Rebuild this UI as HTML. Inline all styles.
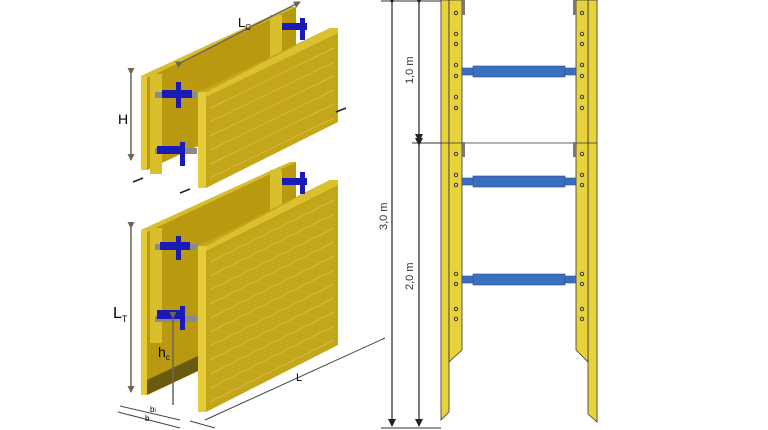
<!DOCTYPE html>
<html><head><meta charset="utf-8"><style>
html,body{margin:0;padding:0;background:#fff;width:768px;height:430px;overflow:hidden}
svg{display:block;font-family:"Liberation Sans",sans-serif}
</style></head><body>
<svg width="768" height="430" viewBox="0 0 768 430" xmlns="http://www.w3.org/2000/svg">
<defs>
<marker id="ab" markerWidth="8" markerHeight="8" refX="7" refY="4" orient="auto" markerUnits="userSpaceOnUse"><path d="M0,0L8,4L0,8z" fill="#222"/></marker>
<marker id="ag" markerWidth="7" markerHeight="7" refX="6" refY="3.5" orient="auto" markerUnits="userSpaceOnUse"><path d="M0,0L7,3.5L0,7z" fill="#6b6655"/></marker>
</defs>
<!-- ===== LEFT ISOMETRIC ===== -->
<!-- upper unit back panel -->
<polygon points="141,76 290,7 296,7 296,100 147,170 141,170" fill="#b8990f"/>
<polygon points="141,76 290,7 296,7 147,78" fill="#d8bd2c"/>
<polygon points="141,76 147,76 147,170 141,170" fill="#e3c935"/>
<rect x="150" y="74" width="12" height="100" fill="#d9bf2c"/>
<rect x="270" y="15" width="12" height="60" fill="#d9bf2c"/>
<!-- upper front panel -->
<polygon points="198,92 330,28 338,28 338,122 206,188 198,188" fill="#c4a61a"/>
<polygon points="198,92 206,92 206,188 198,188" fill="#e6cc38"/>
<polygon points="206,92 330,28 338,28 338,33 206,97" fill="#dcc12e"/>
<g stroke="#d8c050" stroke-width="0.7">
<line x1="210" y1="108" x2="334" y2="48"/><line x1="210" y1="122" x2="334" y2="62"/><line x1="210" y1="136" x2="334" y2="76"/><line x1="210" y1="150" x2="334" y2="90"/><line x1="210" y1="164" x2="334" y2="104"/><line x1="210" y1="178" x2="334" y2="118"/>
</g>
<!-- struts upper -->
<g fill="#1a1ab8">
<rect x="155" y="92" width="42" height="6" fill="#8a8a8a"/>
<rect x="162" y="90" width="30" height="8"/><rect x="176" y="82" width="5" height="26"/>
<rect x="155" y="148" width="42" height="6" fill="#8a8a8a"/>
<rect x="157" y="146" width="28" height="8"/><rect x="180" y="142" width="5" height="24"/>
<rect x="282" y="23" width="25" height="7"/><rect x="300" y="18" width="5" height="22"/>
</g>
<!-- dims upper -->
<line x1="131" y1="74" x2="131" y2="160" stroke="#6b6655" stroke-width="1.5" marker-start="url(#ag)" marker-end="url(#ag)"/>
<text x="118" y="124" font-size="14">H</text>
<line x1="182" y1="62" x2="300" y2="2" stroke="#6b6655" stroke-width="1.5" marker-start="url(#ag)" marker-end="url(#ag)"/>
<text x="238" y="27" font-size="13">L<tspan font-size="8" dy="3">C</tspan></text>
<line x1="133" y1="182" x2="143" y2="178" stroke="#222" stroke-width="1.5"/>
<line x1="180" y1="193" x2="190" y2="189" stroke="#222" stroke-width="1.5"/>
<line x1="336" y1="112" x2="346" y2="108" stroke="#222" stroke-width="1.5"/>
<!-- lower unit back panel -->
<polygon points="141,230 290,162 296,162 296,325 147,395 141,395" fill="#b8990f"/>
<polygon points="141,230 290,162 296,162 147,232" fill="#d8bd2c"/>
<polygon points="141,230 147,230 147,395 141,395" fill="#e3c935"/>
<polygon points="147,380 200,355 200,370 147,395" fill="#6a5a10"/>
<rect x="150" y="228" width="12" height="115" fill="#d9bf2c"/>
<rect x="270" y="170" width="12" height="50" fill="#d9bf2c"/>
<!-- lower front panel -->
<polygon points="198,246 330,180 338,180 338,345 206,412 198,412" fill="#c4a61a"/>
<polygon points="198,246 206,246 206,412 198,412" fill="#e6cc38"/>
<polygon points="206,246 330,180 338,180 338,185 206,251" fill="#dcc12e"/>
<g stroke="#d8c050" stroke-width="0.7">
<line x1="210" y1="262" x2="334" y2="200"/><line x1="210" y1="276" x2="334" y2="214"/><line x1="210" y1="290" x2="334" y2="228"/><line x1="210" y1="304" x2="334" y2="242"/><line x1="210" y1="318" x2="334" y2="256"/><line x1="210" y1="332" x2="334" y2="270"/><line x1="210" y1="346" x2="334" y2="284"/><line x1="210" y1="360" x2="334" y2="298"/><line x1="210" y1="374" x2="334" y2="312"/><line x1="210" y1="388" x2="334" y2="326"/><line x1="210" y1="402" x2="334" y2="340"/>
</g>
<g fill="#1a1ab8">
<rect x="155" y="244" width="42" height="6" fill="#8a8a8a"/>
<rect x="160" y="242" width="30" height="8"/><rect x="176" y="236" width="5" height="24"/>
<rect x="155" y="316" width="42" height="6" fill="#8a8a8a"/>
<rect x="157" y="310" width="28" height="9"/><rect x="180" y="306" width="5" height="24"/>
<rect x="282" y="178" width="25" height="7"/><rect x="300" y="172" width="5" height="22"/>
</g>
<line x1="131" y1="228" x2="131" y2="392" stroke="#6b6655" stroke-width="1.5" marker-start="url(#ag)" marker-end="url(#ag)"/>
<text x="113" y="318" font-size="16">L<tspan font-size="9" dy="4">T</tspan></text>
<line x1="173" y1="318" x2="173" y2="405" stroke="#6b6655" stroke-width="1.5" marker-start="url(#ag)"/>
<text x="158" y="357" font-size="14">h<tspan font-size="8" dy="3">c</tspan></text>
<line x1="205" y1="420" x2="385" y2="338" stroke="#444" stroke-width="1"/>
<text x="296" y="381" font-size="11">L</text>
<line x1="120" y1="406" x2="180" y2="420" stroke="#444" stroke-width="1"/>
<line x1="118" y1="412" x2="180" y2="428" stroke="#444" stroke-width="1"/>
<text x="150" y="412" font-size="8">b<tspan font-size="6">i</tspan></text>
<text x="145" y="421" font-size="8">b</text>
<line x1="190" y1="421" x2="215" y2="428" stroke="#444" stroke-width="1"/>
<!-- ===== RIGHT ELEVATION ===== -->
<g stroke="#333" stroke-width="0.8">
<!-- left post -->
<polygon points="441,0 449,0 449,412 441,420" fill="#e8d33c"/>
<polygon points="449,0 462,0 462,350 449,362" fill="#e8d33c"/>
<!-- right post -->
<polygon points="588,0 597,0 597,422 588,414" fill="#e8d33c"/>
<polygon points="576,0 588,0 588,362 576,350" fill="#e8d33c"/>
</g>
<line x1="441" y1="143" x2="597" y2="143" stroke="#333" stroke-width="0.8"/>
<rect x="462" y="0" width="3" height="15" fill="#777"/><rect x="573" y="0" width="3" height="15" fill="#777"/>
<rect x="462" y="142" width="3" height="15" fill="#777"/><rect x="573" y="142" width="3" height="15" fill="#777"/>
<g fill="#3a6fbf" stroke="#2a4f8f" stroke-width="0.6">
<rect x="462" y="68" width="114" height="7"/><rect x="473" y="66" width="92" height="11"/>
<rect x="462" y="178" width="114" height="7"/><rect x="473" y="176" width="92" height="11"/>
<rect x="462" y="276" width="114" height="7"/><rect x="473" y="274" width="92" height="11"/>
</g>
<g fill="none" stroke="#333" stroke-width="1">
<circle cx="456" cy="13" r="1.7"/><circle cx="456" cy="34" r="1.7"/><circle cx="456" cy="44" r="1.7"/><circle cx="456" cy="65" r="1.7"/><circle cx="456" cy="76" r="1.7"/><circle cx="456" cy="97" r="1.7"/><circle cx="456" cy="108" r="1.7"/>
<circle cx="456" cy="154" r="1.7"/><circle cx="456" cy="175" r="1.7"/><circle cx="456" cy="185" r="1.7"/><circle cx="456" cy="274" r="1.7"/><circle cx="456" cy="284" r="1.7"/><circle cx="456" cy="309" r="1.7"/><circle cx="456" cy="319" r="1.7"/>
<circle cx="582" cy="13" r="1.7"/><circle cx="582" cy="34" r="1.7"/><circle cx="582" cy="44" r="1.7"/><circle cx="582" cy="65" r="1.7"/><circle cx="582" cy="76" r="1.7"/><circle cx="582" cy="97" r="1.7"/><circle cx="582" cy="108" r="1.7"/>
<circle cx="582" cy="154" r="1.7"/><circle cx="582" cy="175" r="1.7"/><circle cx="582" cy="185" r="1.7"/><circle cx="582" cy="274" r="1.7"/><circle cx="582" cy="284" r="1.7"/><circle cx="582" cy="309" r="1.7"/><circle cx="582" cy="319" r="1.7"/>
</g>
<!-- dimensions -->
<g stroke="#333" stroke-width="1">
<line x1="381" y1="1" x2="441" y2="1"/>
<line x1="381" y1="428" x2="441" y2="428"/>
<line x1="412" y1="143" x2="441" y2="143"/>
</g>
<g stroke="#222" stroke-width="1.2">
<line x1="392" y1="3" x2="392" y2="426" marker-start="url(#ab)" marker-end="url(#ab)"/>
<line x1="419" y1="3" x2="419" y2="141" marker-start="url(#ab)" marker-end="url(#ab)"/>
<line x1="419" y1="145" x2="419" y2="426" marker-start="url(#ab)" marker-end="url(#ab)"/>
</g>
<g font-size="11" fill="#333">
<text transform="translate(413,84) rotate(-90)">1,0 m</text>
<text transform="translate(387,230) rotate(-90)">3,0 m</text>
<text transform="translate(413,290) rotate(-90)">2,0 m</text>
</g>
</svg>
</body></html>
